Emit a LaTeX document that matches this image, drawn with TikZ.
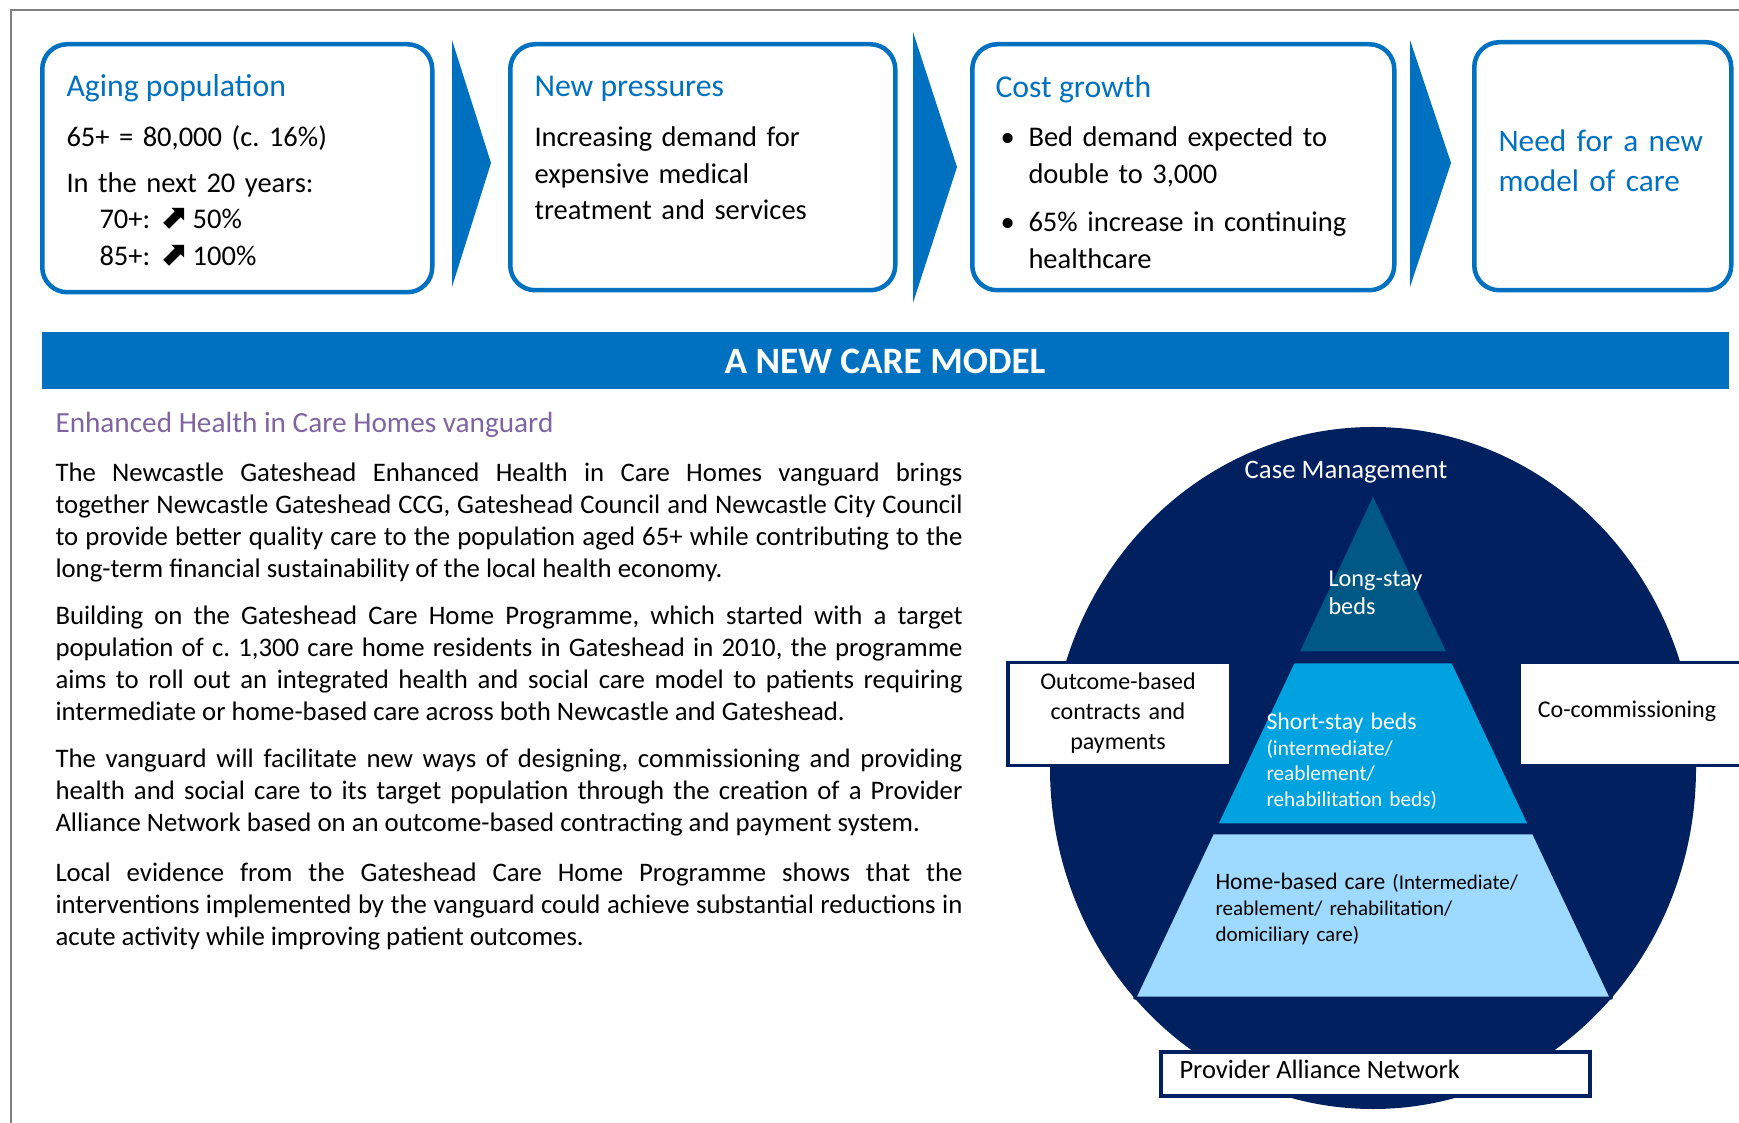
\documentclass[tikz,border=0pt]{standalone}
\usepackage{fontspec}
\setmainfont{Carlito}
\newfontfamily\arrowfont{DejaVu Sans}
\usetikzlibrary{positioning,shapes.geometric}
\frenchspacing

\definecolor{ablue}{RGB}{0,112,192}
\definecolor{navy}{RGB}{0,32,96}
\definecolor{vpurple}{RGB}{128,100,162}
\definecolor{longstay}{RGB}{0,88,132}
\definecolor{shortstay}{RGB}{0,162,224}
\definecolor{homecare}{RGB}{158,218,255}
\definecolor{frame}{RGB}{128,128,128}

\newcommand{\upto}{{\arrowfont\bfseries\fontsize{13.5}{14}\selectfont ⬈}}

\begin{document}
\begin{tikzpicture}[
            x=0.4pt, y=-0.4pt,
            topbox/.style={rectangle, draw=ablue, line width=1.8pt, rounded corners=10pt, anchor=north west},
            chevron/.style={fill=ablue},
            headtext/.style={inner sep=0pt, anchor=base west, text=ablue, font=\fontsize{12.7}{15}\selectfont},
            boxtext/.style={inner sep=0pt, anchor=base west, align=left, font=\fontsize{11.4}{14.6}\selectfont},
            bodytext/.style={inner sep=0pt, anchor=base west, text width=362.8pt, align=justify,
                             font=\fontsize{10.7}{12.8}\selectfont},
            sidebox/.style={rectangle, fill=white, draw=navy, line width=1.4pt, anchor=north west},
            layer/.style={draw=navy, line width=1.2pt, line join=round},
            pyrtext/.style={inner sep=0pt, anchor=base west, align=left, font=\fontsize{9.5}{11.2}\selectfont}
        ]
        \useasboundingbox (0,0) rectangle (1739,1123);

        %page frame
        \draw[frame, line width=1pt] (11,1123) -- (11,10) -- (1739,10);

        %top boxes
        \node[topbox, minimum width=156pt, minimum height=99.2pt]   (aging)   at (40,42)   {};
        \node[topbox, minimum width=154pt, minimum height=98.4pt]   (press)   at (508,42)  {};
        \node[topbox, minimum width=168.8pt, minimum height=98.4pt] (cost)    at (970,42)  {};
        \node[topbox, minimum width=102.8pt, minimum height=99.2pt] (needbox) at (1472,40) {};

        %chevrons
        \fill[chevron] (452,40) -- (491,163) -- (452,287) -- cycle;
        \fill[chevron] (913,32) -- (957,167) -- (913,303) -- cycle;
        \fill[chevron] (1410,40) -- (1451,163) -- (1410,287) -- cycle;

        %box texts
        \node[headtext] (agingT) at (66,97) {Aging population};
        \node[boxtext, text width=140pt] (agingB) at (66,147)
            {65+ = 80,000 (c. 16\%)\\[3.6pt]
             In the next 20 years:\\
             \hspace*{13.2pt}70+: \upto\,50\%\\
             \hspace*{13.2pt}85+: \upto\,100\%};
        \node[headtext] (pressT) at (534,97) {New pressures};
        \node[boxtext, text width=140pt] (pressB) at (534,147)
            {Increasing demand for\\expensive medical\\treatment and services};
        \node[headtext] (costT) at (995,98) {Cost growth};
        \node[boxtext] (bul1) at (1000,147) {\textbullet};
        \node[boxtext, text width=140pt] (cost1) at (1028,147)
            {Bed demand expected to\\double to 3,000};
        \node[boxtext] (bul2) at (1000,232) {\textbullet};
        \node[boxtext, text width=140pt] (cost2) at (1028,232)
            {65\% increase in continuing\\healthcare};
        \node[headtext, text width=95pt, align=left, font=\fontsize{12.5}{16}\selectfont] (needT) at (1498,152)
            {Need for a new\\model of care};

        %banner
        \node[rectangle, fill=ablue, anchor=north west, minimum width=674.8pt, minimum height=22.8pt,
              text=white, font=\bfseries\fontsize{14.9}{16}\selectfont] (banner) at (41,332) {A NEW CARE MODEL};

        %left column
        \node[inner sep=0pt, anchor=base west, text=vpurple, font=\fontsize{11.7}{13}\selectfont] (vanguard) at (55,433)
            {Enhanced Health in Care Homes vanguard};
        \node[bodytext] (par1) at (55,482)
            {The Newcastle Gateshead Enhanced Health in Care Homes vanguard brings\linebreak
             together Newcastle Gateshead CCG, Gateshead Council and Newcastle City Council\linebreak
             to provide better quality care to the population aged 65+ while contributing to the\linebreak
             long-term financial sustainability of the local health economy.};
        \node[bodytext] (par2) at (55,625)
            {Building on the Gateshead Care Home Programme, which started with a target\linebreak
             population of c. 1,300 care home residents in Gateshead in 2010, the programme\linebreak
             aims to roll out an integrated health and social care model to patients requiring\linebreak
             intermediate or home-based care across both Newcastle and Gateshead.};
        \node[bodytext] (par3) at (55,768)
            {The vanguard will facilitate new ways of designing, commissioning and providing\linebreak
             health and social care to its target population through the creation of a Provider\linebreak
             Alliance Network based on an outcome-based contracting and payment system.};
        \node[bodytext] (par4) at (55,882)
            {Local evidence from the Gateshead Care Home Programme shows that the\linebreak
             interventions implemented by the vanguard could achieve substantial reductions in\linebreak
             acute activity while improving patient outcomes.};

        %care model circle
        \node[ellipse, fill=navy, minimum width=258.4pt, minimum height=272.8pt, inner sep=0pt] (model) at (1373,768) {};
        \node[inner sep=0pt, anchor=base, text=white, font=\fontsize{10.7}{13}\selectfont] (casemgmt) at (1346,479) {Case Management};

        %pyramid
        \fill[layer, fill=longstay]  (1373,493) -- (1297.5,653) -- (1448.5,653) -- cycle;
        \fill[layer, fill=shortstay] (1293.2,662) -- (1452.8,662) -- (1529.7,825) -- (1216.3,825) -- cycle;
        \filldraw[layer, fill=homecare] (1212.5,833) -- (1533.5,833) -- (1611.4,998) -- (1134.6,998) -- cycle;

        \node[pyrtext, text=white, text width=50pt, font=\fontsize{9.7}{11.2}\selectfont] (longT) at (1328,587) {Long-stay\\beds};
        \node[pyrtext, text=white, text width=90pt, font=\fontsize{8.5}{10.2}\selectfont] (shortT) at (1266,730)
            {{\fontsize{9.5}{10.2}\selectfont Short-stay beds}\\(intermediate/\\reablement/\\rehabilitation beds)};
        \node[pyrtext, text width=140pt, font=\fontsize{8.4}{10.4}\selectfont] (homeT) at (1215,890)
            {{\fontsize{9.45}{10.4}\selectfont Home-based care} (Intermediate/\\reablement/ rehabilitation/\\domiciliary care)};

        %side boxes
        \node[sidebox, minimum width=89.2pt, minimum height=41.2pt] (outcome) at (1006,661) {};
        \node[inner sep=0pt, anchor=base, text width=85pt, align=center, font=\fontsize{9.6}{12}\selectfont] (outcomeT) at (1118,690)
            {Outcome-based\\contracts and\\payments};
        \node[sidebox, minimum width=91.2pt, minimum height=41.2pt] (cocomm) at (1517,661) {};
        \node[inner sep=0pt, anchor=base, font=\fontsize{9.6}{12}\selectfont] (cocommT) at (1627,718) {Co-commissioning};
        \node[sidebox, line width=1.6pt, minimum width=171.6pt, minimum height=17.6pt] (provider) at (1159,1050) {};
        \node[inner sep=0pt, anchor=base west, font=\fontsize{10.6}{13}\selectfont] (providerT) at (1179,1078) {Provider Alliance Network};

        \end{tikzpicture}
\end{document}
